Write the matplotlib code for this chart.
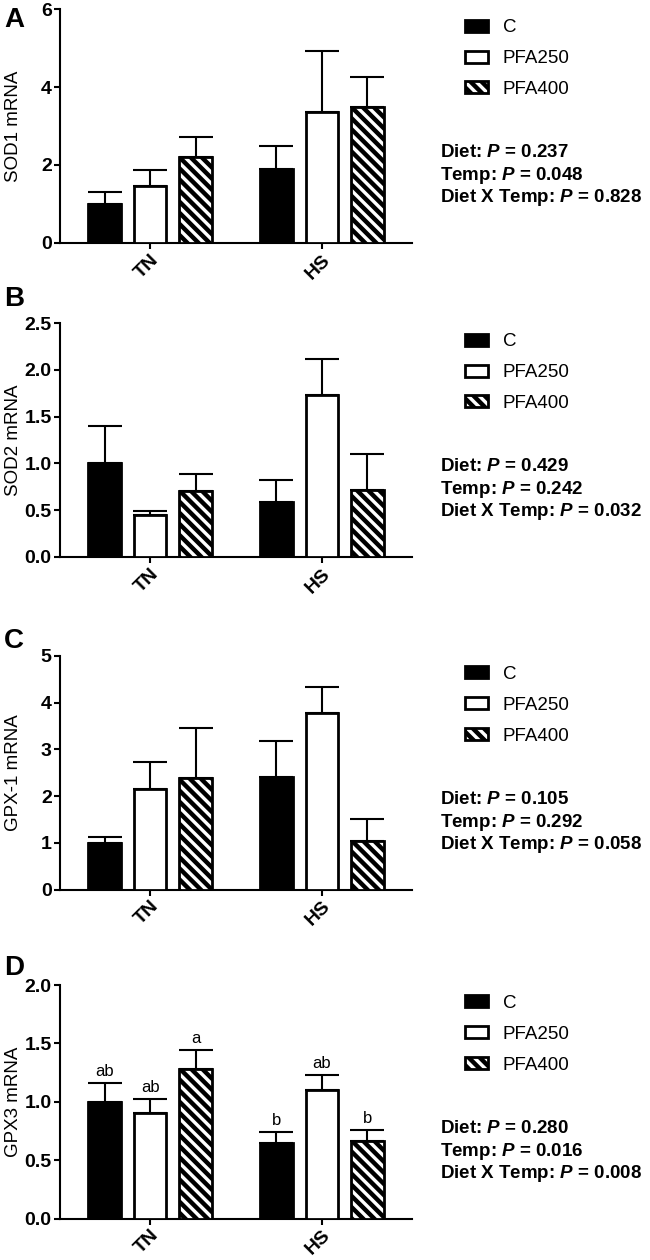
import matplotlib
matplotlib.use('Agg')
import matplotlib.pyplot as plt
import numpy as np

plt.rcParams['font.family'] = ['Liberation Sans', 'DejaVu Sans']
plt.rcParams['mathtext.fontset'] = 'custom'
plt.rcParams['mathtext.it'] = 'Liberation Sans:italic:bold'
plt.rcParams['mathtext.rm'] = 'Liberation Sans:bold'
plt.rcParams['hatch.linewidth'] = 3.2

# data: rows = diet (C, PFA250, PFA400), columns = temperature (TN, HS)
groups = ['TN', 'HS']
diets = ['C', 'PFA250', 'PFA400']

sod1_mean = [[1.0, 1.9], [1.45, 3.35], [2.2, 3.48]]
sod1_se = [[0.30, 0.60], [0.41, 1.58], [0.52, 0.79]]

sod2_mean = [[1.0, 0.59], [0.45, 1.73], [0.70, 0.71]]
sod2_se = [[0.40, 0.23], [0.04, 0.39], [0.19, 0.39]]

gpx1_mean = [[1.0, 2.41], [2.16, 3.79], [2.38, 1.04]]
gpx1_se = [[0.13, 0.76], [0.58, 0.55], [1.08, 0.46]]

gpx3_mean = [[1.0, 0.65], [0.90, 1.10], [1.28, 0.66]]
gpx3_se = [[0.16, 0.09], [0.12, 0.13], [0.16, 0.10]]
gpx3_letters = [['ab', 'b'], ['ab', 'ab'], ['a', 'b']]

p_sod1 = ['0.237', '0.048', '0.828']
p_sod2 = ['0.429', '0.242', '0.032']
p_gpx1 = ['0.105', '0.292', '0.058']
p_gpx3 = ['0.280', '0.016', '0.008']

panels = [
    ('A', 'SOD1 mRNA', sod1_mean, sod1_se, p_sod1, [0, 2, 4, 6], '{:.0f}', None),
    ('B', 'SOD2 mRNA', sod2_mean, sod2_se, p_sod2, [0, 0.5, 1.0, 1.5, 2.0, 2.5], '{:.1f}', None),
    ('C', 'GPX-1 mRNA', gpx1_mean, gpx1_se, p_gpx1, [0, 1, 2, 3, 4, 5], '{:.0f}', None),
    ('D', 'GPX3 mRNA', gpx3_mean, gpx3_se, p_gpx3, [0, 0.5, 1.0, 1.5, 2.0], '{:.1f}', gpx3_letters),
]

# layout in pixels
W, H = 650, 1260
axes_top = [9.3, 323.3, 656, 985]
axes_h = 233.5
letter_base = [27, 306, 648, 975]


def fx(px):
    return px / W


def fy(py):
    return 1 - py / H


fig = plt.figure(figsize=(6.5, 12.6), dpi=100)

x = np.arange(len(groups))
offsets = [-0.265, 0, 0.265]
width = 0.19
faces = ['black', 'white', 'white']
hatches = [None, None, '\\\\\\']

for k, (tag, ylabel, means, ses, pvals, yticks, fmt, letters) in enumerate(panels):
    top = axes_top[k]
    ax = fig.add_axes([fx(60), fy(top + axes_h), fx(352), axes_h / H])
    handles = []
    for i, d in enumerate(diets):
        b = ax.bar(x + offsets[i], means[i], width, color=faces[i], edgecolor='black',
                   linewidth=2, hatch=hatches[i], label=d, zorder=3)
        handles.append(b)
        ax.errorbar(x + offsets[i], means[i], yerr=[np.zeros(2), ses[i]], fmt='none',
                    ecolor='black', elinewidth=1.5, capsize=12, capthick=1.5, zorder=2)
        if letters is not None:
            for j in range(len(groups)):
                ax.annotate(letters[i][j], (x[j] + offsets[i], means[i][j] + ses[i][j]),
                            xytext=(0, 3), textcoords='offset points',
                            ha='center', va='bottom', fontsize=12)

    ax.set_xlim(-0.524, 1.524)
    ax.set_ylim(0, yticks[-1])
    ax.set_yticks(yticks, [fmt.format(t) for t in yticks], fontweight='bold', fontsize=14)
    ax.set_xticks(x, groups, rotation=45, ha='right', rotation_mode='anchor',
                  fontweight='bold', fontsize=14)
    ax.spines[['top', 'right']].set_visible(False)
    ax.spines[['left', 'bottom']].set_linewidth(1.5)
    ax.tick_params(length=4, width=1.5, pad=2)
    ax.set_ylabel(ylabel, fontsize=13.5)
    ax.yaxis.set_label_coords(-0.109, 0.5)

    ax.legend(handles=handles, loc='upper left', bbox_to_anchor=(fx(465), fy(top + 10)),
              bbox_transform=fig.transFigure, frameon=False, fontsize=13.5,
              handlelength=1.2, handleheight=0.6, handletextpad=0.8,
              labelspacing=0.74, borderpad=0, borderaxespad=0)

    fig.text(fx(440), fy(top + 148), r'Diet: $P$ = ' + pvals[0],
             fontsize=13.5, fontweight='bold', va='baseline')
    fig.text(fx(440), fy(top + 171), r'Temp: $P$ = ' + pvals[1],
             fontsize=13.5, fontweight='bold', va='baseline')
    fig.text(fx(440), fy(top + 193), r'Diet X Temp: $P$ = ' + pvals[2],
             fontsize=13.5, fontweight='bold', va='baseline')

    fig.text(fx(4), fy(letter_base[k]), tag, fontsize=20, fontweight='bold', va='baseline')

fig.savefig('out.png', dpi=100)
